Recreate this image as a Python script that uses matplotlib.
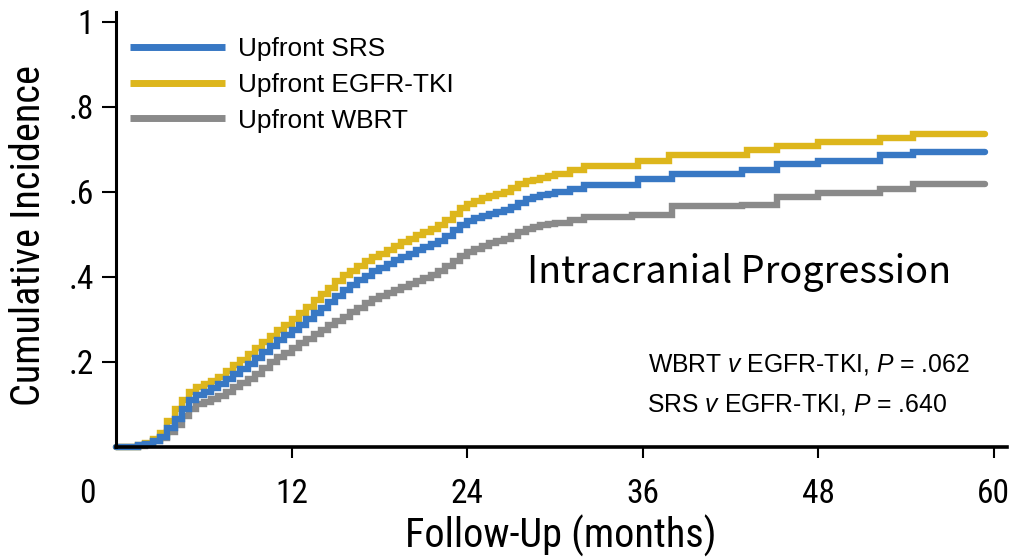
import matplotlib
matplotlib.use("Agg")
import numpy as np
import matplotlib.pyplot as plt
from matplotlib import font_manager
from matplotlib.font_manager import FontProperties
from matplotlib.transforms import ScaledTranslation

# time grid shared by the dense part of the three curves (months)
months_grid = [0, 1.5] + list(np.arange(2, 30.5, 0.5)) + [31, 32]

inc_srs = [0, 0.004,
           0.008, 0.015, 0.024, 0.045, 0.065, 0.09, 0.11, 0.122,
           0.13, 0.139, 0.148, 0.16, 0.172, 0.183, 0.196, 0.21,
           0.223, 0.238, 0.252, 0.263, 0.276, 0.287, 0.3, 0.315,
           0.328, 0.341, 0.355, 0.369, 0.381, 0.392, 0.403, 0.413,
           0.422, 0.431, 0.44, 0.448, 0.455, 0.463, 0.47, 0.477,
           0.485, 0.497, 0.51, 0.522, 0.532, 0.538, 0.543, 0.548,
           0.553, 0.558, 0.565, 0.575, 0.583, 0.588, 0.592, 0.596,
           0.6, 0.608, 0.616]
tail_t_srs = [35.7, 38, 42.8, 45.2, 48, 52.2, 54.5, 59.4]
tail_srs = [0.63, 0.642, 0.651, 0.666, 0.674, 0.686, 0.695, 0.695]

inc_tki = [0, 0.005,
           0.01, 0.018, 0.032, 0.06, 0.09, 0.11, 0.13, 0.142,
           0.148, 0.156, 0.165, 0.178, 0.192, 0.205, 0.218, 0.232,
           0.247, 0.261, 0.275, 0.288, 0.302, 0.316, 0.33, 0.345,
           0.36, 0.375, 0.39, 0.404, 0.415, 0.427, 0.437, 0.447,
           0.455, 0.464, 0.473, 0.482, 0.49, 0.499, 0.507, 0.514,
           0.523, 0.535, 0.548, 0.562, 0.572, 0.579, 0.585, 0.59,
           0.595, 0.601, 0.61, 0.618, 0.625, 0.628, 0.632, 0.637,
           0.642, 0.652, 0.66]
tail_t_tki = [35.7, 37.8, 43.1, 45.2, 48, 52.2, 54.5, 59.4]
tail_tki = [0.674, 0.686, 0.699, 0.709, 0.717, 0.728, 0.736, 0.736]

inc_wbrt = [0, 0.003,
            0.007, 0.013, 0.02, 0.035, 0.052, 0.072, 0.09, 0.1,
            0.106, 0.112, 0.12, 0.13, 0.14, 0.15, 0.16, 0.172,
            0.185, 0.199, 0.212, 0.222, 0.233, 0.244, 0.255, 0.265,
            0.275, 0.286, 0.296, 0.307, 0.317, 0.328, 0.338, 0.348,
            0.356, 0.363, 0.37, 0.377, 0.384, 0.391, 0.398, 0.405,
            0.413, 0.425, 0.438, 0.45, 0.458, 0.466, 0.472, 0.479,
            0.485, 0.49, 0.497, 0.505, 0.512, 0.517, 0.522, 0.525,
            0.528, 0.535, 0.54]
tail_t_wbrt = [35.3, 38, 42.8, 45.2, 48, 52.2, 54.5, 59.4]
tail_wbrt = [0.546, 0.566, 0.57, 0.588, 0.598, 0.608, 0.619, 0.619]

labels = ["Upfront SRS", "Upfront EGFR-TKI", "Upfront WBRT"]
colors = ["#3878c4", "#ddb61c", "#8a8a8a"]

x_ticks = [0, 12, 24, 36, 48, 60]
y_ticks = [0.2, 0.4, 0.6, 0.8, 1.0]
y_ticklabels = [".2", ".4", ".6", ".8", "1"]

p_lines = [r"WBRT $v$ EGFR-TKI, $P$ = .062", r"SRS $v$ EGFR-TKI, $P$ = .640"]


def find_narrow():
    """Return a FontProperties for a condensed sans, or None."""
    prefer = ["Liberation Sans Narrow", "Roboto Condensed", "DejaVu Sans",
              "Noto Sans", "Open Sans", "Roboto", "Liberation Sans"]
    found = {}
    for f in font_manager.fontManager.ttflist:
        if f.style != "normal" or f.weight not in (400, "normal", "regular"):
            continue
        cond = (f.stretch in ("condensed", "semi-condensed", "extra-condensed")
                or "Narrow" in f.name or "Condensed" in f.name
                or "Condensed" in f.fname or "Narrow" in f.fname)
        if cond:
            found.setdefault(f.name, f.fname)
    for name in prefer:
        if name in found:
            return FontProperties(fname=found[name])
    if found:
        return FontProperties(fname=next(iter(found.values())))
    return None


narrow = find_narrow()
if narrow is None:
    narrow = FontProperties(family="Liberation Sans")
    shrink = 0.9
else:
    shrink = 1.0

plt.rcParams["font.family"] = ["Liberation Sans", "DejaVu Sans"]
plt.rcParams["mathtext.fontset"] = "custom"
plt.rcParams["mathtext.rm"] = "Liberation Sans"
plt.rcParams["mathtext.it"] = "Liberation Sans:italic"

fig = plt.figure(figsize=(10.15, 5.58), dpi=100)
ax = fig.add_axes([116 / 1015, 111 / 558, 891 / 1015, 435 / 558])

series = [(months_grid + tail_t_srs, inc_srs + tail_srs),
          (months_grid + tail_t_tki, inc_tki + tail_tki),
          (months_grid + tail_t_wbrt, inc_wbrt + tail_wbrt)]
handles = [None] * 3
for i in (2, 1, 0):
    t, v = series[i]
    (h,) = ax.step(t, v, where="post", color=colors[i], lw=4.6,
                   solid_capstyle="round", solid_joinstyle="miter", clip_on=False)
    handles[i] = h

ax.set_xlim(0, 60.9)
ax.set_ylim(0, 1.0235)

for s in ("top", "right"):
    ax.spines[s].set_visible(False)
ax.spines["left"].set_linewidth(2.2)
ax.spines["bottom"].set_linewidth(2.6)


def nfont(size):
    fp = narrow.copy()
    fp.set_size(size * shrink)
    return fp


ax.set_xticks(x_ticks)
ax.set_xticklabels([str(x) for x in x_ticks], fontproperties=nfont(24))
ax.set_yticks(y_ticks)
ax.set_yticklabels(y_ticklabels, fontproperties=nfont(24))
ax.tick_params(axis="x", length=8, width=1.5, pad=14)
ax.tick_params(axis="y", length=10, width=1.5, pad=6)

# the "0" label sits left of the origin and has no tick mark
ax.xaxis.get_major_ticks()[0].tick1line.set_visible(False)
lbl0 = ax.get_xticklabels()[0]
lbl0.set_transform(lbl0.get_transform() + ScaledTranslation(-0.29, 0, fig.dpi_scale_trans))

ax.set_xlabel("Follow-Up (months)", fontproperties=nfont(29))
ax.xaxis.set_label_coords(0.4994, -0.157)
ax.set_ylabel("Cumulative Incidence", fontproperties=nfont(29))
ax.yaxis.set_label_coords(-0.076, 0.487)

leg = ax.legend(handles, labels, loc="upper left", frameon=False, fontsize=18.9,
                bbox_to_anchor=(130 / 1015, 1 - 37 / 558), bbox_transform=fig.transFigure,
                borderpad=0, borderaxespad=0, handlelength=3.6, handletextpad=0.5,
                labelspacing=0.45)
for line in leg.get_lines():
    line.set_linewidth(5)
    line.set_solid_capstyle("butt")

ax.text(0.461, 0.377, "Intracranial Progression", transform=ax.transAxes,
        fontfamily=["Noto Sans CJK KR", "DejaVu Sans"], fontsize=27.2, va="baseline")

ax.text(0.5971, 0.1728, p_lines[0], transform=ax.transAxes, fontsize=17.8, va="baseline")
ax.text(0.5956, 0.0809, p_lines[1], transform=ax.transAxes, fontsize=17.8, va="baseline")

fig.savefig("out.png", dpi=100)
